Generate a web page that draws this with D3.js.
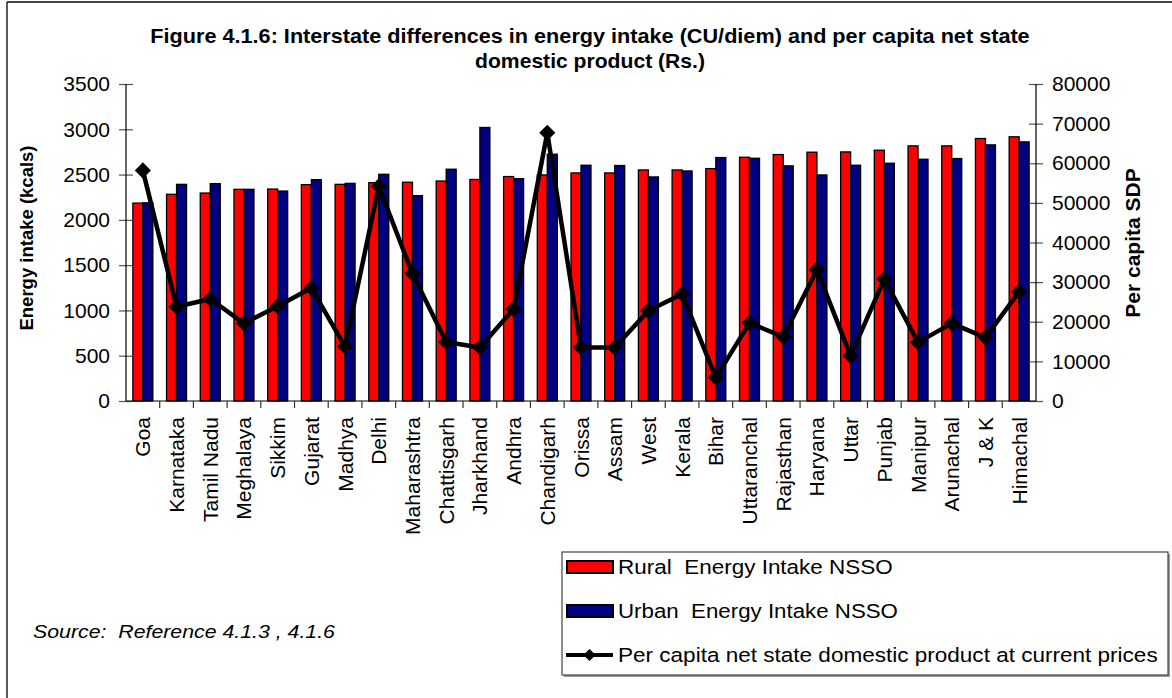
<!DOCTYPE html>
<html>
<head>
<meta charset="utf-8">
<script src="https://cdn.jsdelivr.net/npm/d3@7"></script>
<style>
  html, body { margin: 0; padding: 0; background: #fff; }
  svg { display: block; font-family: Arial, "Liberation Sans", sans-serif; }
  text { white-space: pre; }
</style>
</head>
<body>
<svg id="chart" width="1172" height="698"></svg>
<script>
const categories = ["Goa","Karnataka","Tamil Nadu","Meghalaya","Sikkim","Gujarat","Madhya","Delhi","Maharashtra","Chattisgarh","Jharkhand","Andhra","Chandigarh","Orissa","Assam","West","Kerala","Bihar","Uttaranchal","Rajasthan","Haryana","Uttar","Punjab","Manipur","Arunachal","J & K","Himachal"];
const rural = [2185,2282,2296,2337,2340,2389,2392,2411,2415,2429,2446,2478,2496,2518,2518,2551,2551,2566,2691,2721,2747,2750,2769,2817,2817,2898,2917];
const urban = [2188,2392,2400,2337,2318,2444,2403,2503,2267,2559,3020,2455,2725,2603,2600,2474,2540,2688,2680,2596,2496,2603,2625,2669,2677,2828,2861];
const sdp = [58200,23800,25750,19600,23900,28500,13750,54200,32100,14900,13500,23200,67700,13500,13500,22800,27000,5900,19700,16200,33100,11400,30800,14800,19600,16000,27600];
const leftTicks = [0,500,1000,1500,2000,2500,3000,3500];
const rightTicks = [0,10000,20000,30000,40000,50000,60000,70000,80000];
const seriesNames = ["Rural  Energy Intake NSSO","Urban  Energy Intake NSSO","Per capita net state domestic product at current prices"];
const titleLines = ["Figure 4.1.6: Interstate differences in energy intake (CU/diem) and per capita net state","domestic product (Rs.)"];
const colors = {rural:"#FF0000", urban:"#000080"};

const svg = d3.select("#chart");
const L = 126, R = 1036, T = 84, B = 401;

// stretch a text horizontally so that it spans the wanted width
function fit(sel, px, py, width, anchor) {
  sel.each(function() {
    const n = this.getComputedTextLength();
    const s = width / n;
    d3.select(this).attr("x",0).attr("y",0).attr("text-anchor",anchor||"start")
      .attr("transform",`translate(${px},${py}) scale(${s},1)`);
  });
}

// outer frame
svg.append("line").attr("x1",7).attr("x2",1172).attr("y1",2).attr("y2",2).attr("stroke","#444").attr("stroke-width",2);
svg.append("line").attr("x1",7).attr("x2",7).attr("y1",2).attr("y2",698).attr("stroke","#222").attr("stroke-width",1.5);

const x = d3.scaleBand().domain(categories).range([L,R]).padding(0);
const y = d3.scaleLinear().domain([0,3500]).range([B,T]);
const y2 = d3.scaleLinear().domain([0,80000]).range([B,T]);
const bw = 10;

// title
const titleWidths = [880, 230];
titleLines.forEach((t,i)=>{
  const el = svg.append("text").attr("font-weight","bold").attr("font-size",19.5).text(t);
  fit(el, 590, 43+i*25, titleWidths[i], "middle");
});

// bars
const g = svg.append("g");
g.selectAll("rect.r").data(categories).join("rect").attr("class","r")
  .attr("x",d=>x(d)+x.bandwidth()/2-bw).attr("width",bw)
  .attr("y",(d,i)=>y(rural[i])).attr("height",(d,i)=>B-y(rural[i]))
  .attr("fill",colors.rural).attr("stroke","#000").attr("stroke-width",1.3);
g.selectAll("rect.u").data(categories).join("rect").attr("class","u")
  .attr("x",d=>x(d)+x.bandwidth()/2).attr("width",bw)
  .attr("y",(d,i)=>y(urban[i])).attr("height",(d,i)=>B-y(urban[i]))
  .attr("fill",colors.urban).attr("stroke","#000").attr("stroke-width",1.3);

// left axis
const ya = svg.append("g").attr("transform",`translate(${L},0)`)
  .call(d3.axisLeft(y).tickValues(leftTicks).tickSize(7).tickPadding(9).tickFormat(d3.format("d")));
ya.select(".domain").remove();
ya.append("line").attr("y1",T).attr("y2",B).attr("stroke","#000").attr("stroke-width",1.2);
ya.selectAll(".tick line").attr("x1",7).attr("x2",-7).attr("stroke","#555").attr("stroke-width",1.2);
ya.selectAll(".tick text").attr("font-size",21).attr("fill","#000").attr("font-family","Arial, 'Liberation Sans', sans-serif").attr("x",-16);

// right axis
const yb = svg.append("g").attr("transform",`translate(${R},0)`)
  .call(d3.axisRight(y2).tickValues(rightTicks).tickSize(7).tickPadding(9).tickFormat(d3.format("d")));
yb.select(".domain").remove();
yb.append("line").attr("y1",T).attr("y2",B).attr("stroke","#000").attr("stroke-width",1.2);
yb.selectAll(".tick line").attr("x1",-7).attr("x2",7).attr("stroke","#555").attr("stroke-width",1.2);
yb.selectAll(".tick text").attr("font-size",21).attr("fill","#000").attr("font-family","Arial, 'Liberation Sans', sans-serif").attr("x",16);

// x axis
svg.append("line").attr("x1",L).attr("x2",R).attr("y1",B).attr("y2",B).attr("stroke","#000").attr("stroke-width",1.2);
svg.selectAll("line.xt").data(categories.slice(1)).join("line").attr("class","xt")
  .attr("x1",d=>x(d)).attr("x2",d=>x(d)).attr("y1",B).attr("y2",B+7).attr("stroke","#333").attr("stroke-width",1.2);
svg.selectAll("text.xl").data(categories).join("text").attr("class","xl")
  .attr("transform",d=>`translate(${x(d)+x.bandwidth()/2+7.5},${B+16}) rotate(-90)`)
  .attr("text-anchor","end").attr("font-size",21).text(d=>d);

// line
const line = d3.line().x((d,i)=>x(categories[i])+x.bandwidth()/2).y(d=>y2(d));
svg.append("path").datum(sdp).attr("d",line).attr("fill","none").attr("stroke","#000").attr("stroke-width",4.5).attr("stroke-linejoin","round");
svg.selectAll("path.dm").data(sdp).join("path").attr("class","dm")
  .attr("transform",(d,i)=>`translate(${x(categories[i])+x.bandwidth()/2},${y2(d)}) rotate(45)`)
  .attr("d",d3.symbol().type(d3.symbolSquare).size(130)).attr("fill","#000");

// axis titles
svg.append("text").attr("transform","translate(33,238) rotate(-90)").attr("text-anchor","middle")
  .attr("font-weight","bold").attr("font-size",18.5).text("Energy intake (kcals)");
svg.append("text").attr("transform","translate(1140,243) rotate(-90)").attr("text-anchor","middle")
  .attr("font-weight","bold").attr("font-size",21).text("Per capita SDP");

// source
const src = svg.append("text").attr("font-style","italic").attr("font-size",18).text("Source:  Reference 4.1.3 , 4.1.6");
fit(src, 33, 638, 302, "start");

// legend
svg.append("rect").attr("x",564).attr("y",554).attr("width",606).attr("height",123).attr("fill","#999");
svg.append("rect").attr("x",562).attr("y",552).attr("width",606).attr("height",123).attr("fill","#fff").attr("stroke","#444").attr("stroke-width",1.2);
const rows = [567,611,655];
const legendWidths = [275, 280, 540];
const lg = svg.append("g");
lg.append("rect").attr("x",567).attr("y",rows[0]-6).attr("width",46).attr("height",12).attr("fill",colors.rural).attr("stroke","#000").attr("stroke-width",2);
lg.append("rect").attr("x",567).attr("y",rows[1]-6).attr("width",46).attr("height",12).attr("fill",colors.urban).attr("stroke","#000").attr("stroke-width",2);
lg.append("line").attr("x1",566).attr("x2",613).attr("y1",rows[2]).attr("y2",rows[2]).attr("stroke","#000").attr("stroke-width",4);
lg.append("path").attr("transform",`translate(589.5,${rows[2]}) rotate(45)`).attr("d",d3.symbol().type(d3.symbolSquare).size(75)).attr("fill","#000");
seriesNames.forEach((t,i)=>{
  const el = lg.append("text").attr("font-size",19.5).text(t);
  fit(el, 618, rows[i]+7, legendWidths[i], "start");
});
</script>
</body>
</html>
